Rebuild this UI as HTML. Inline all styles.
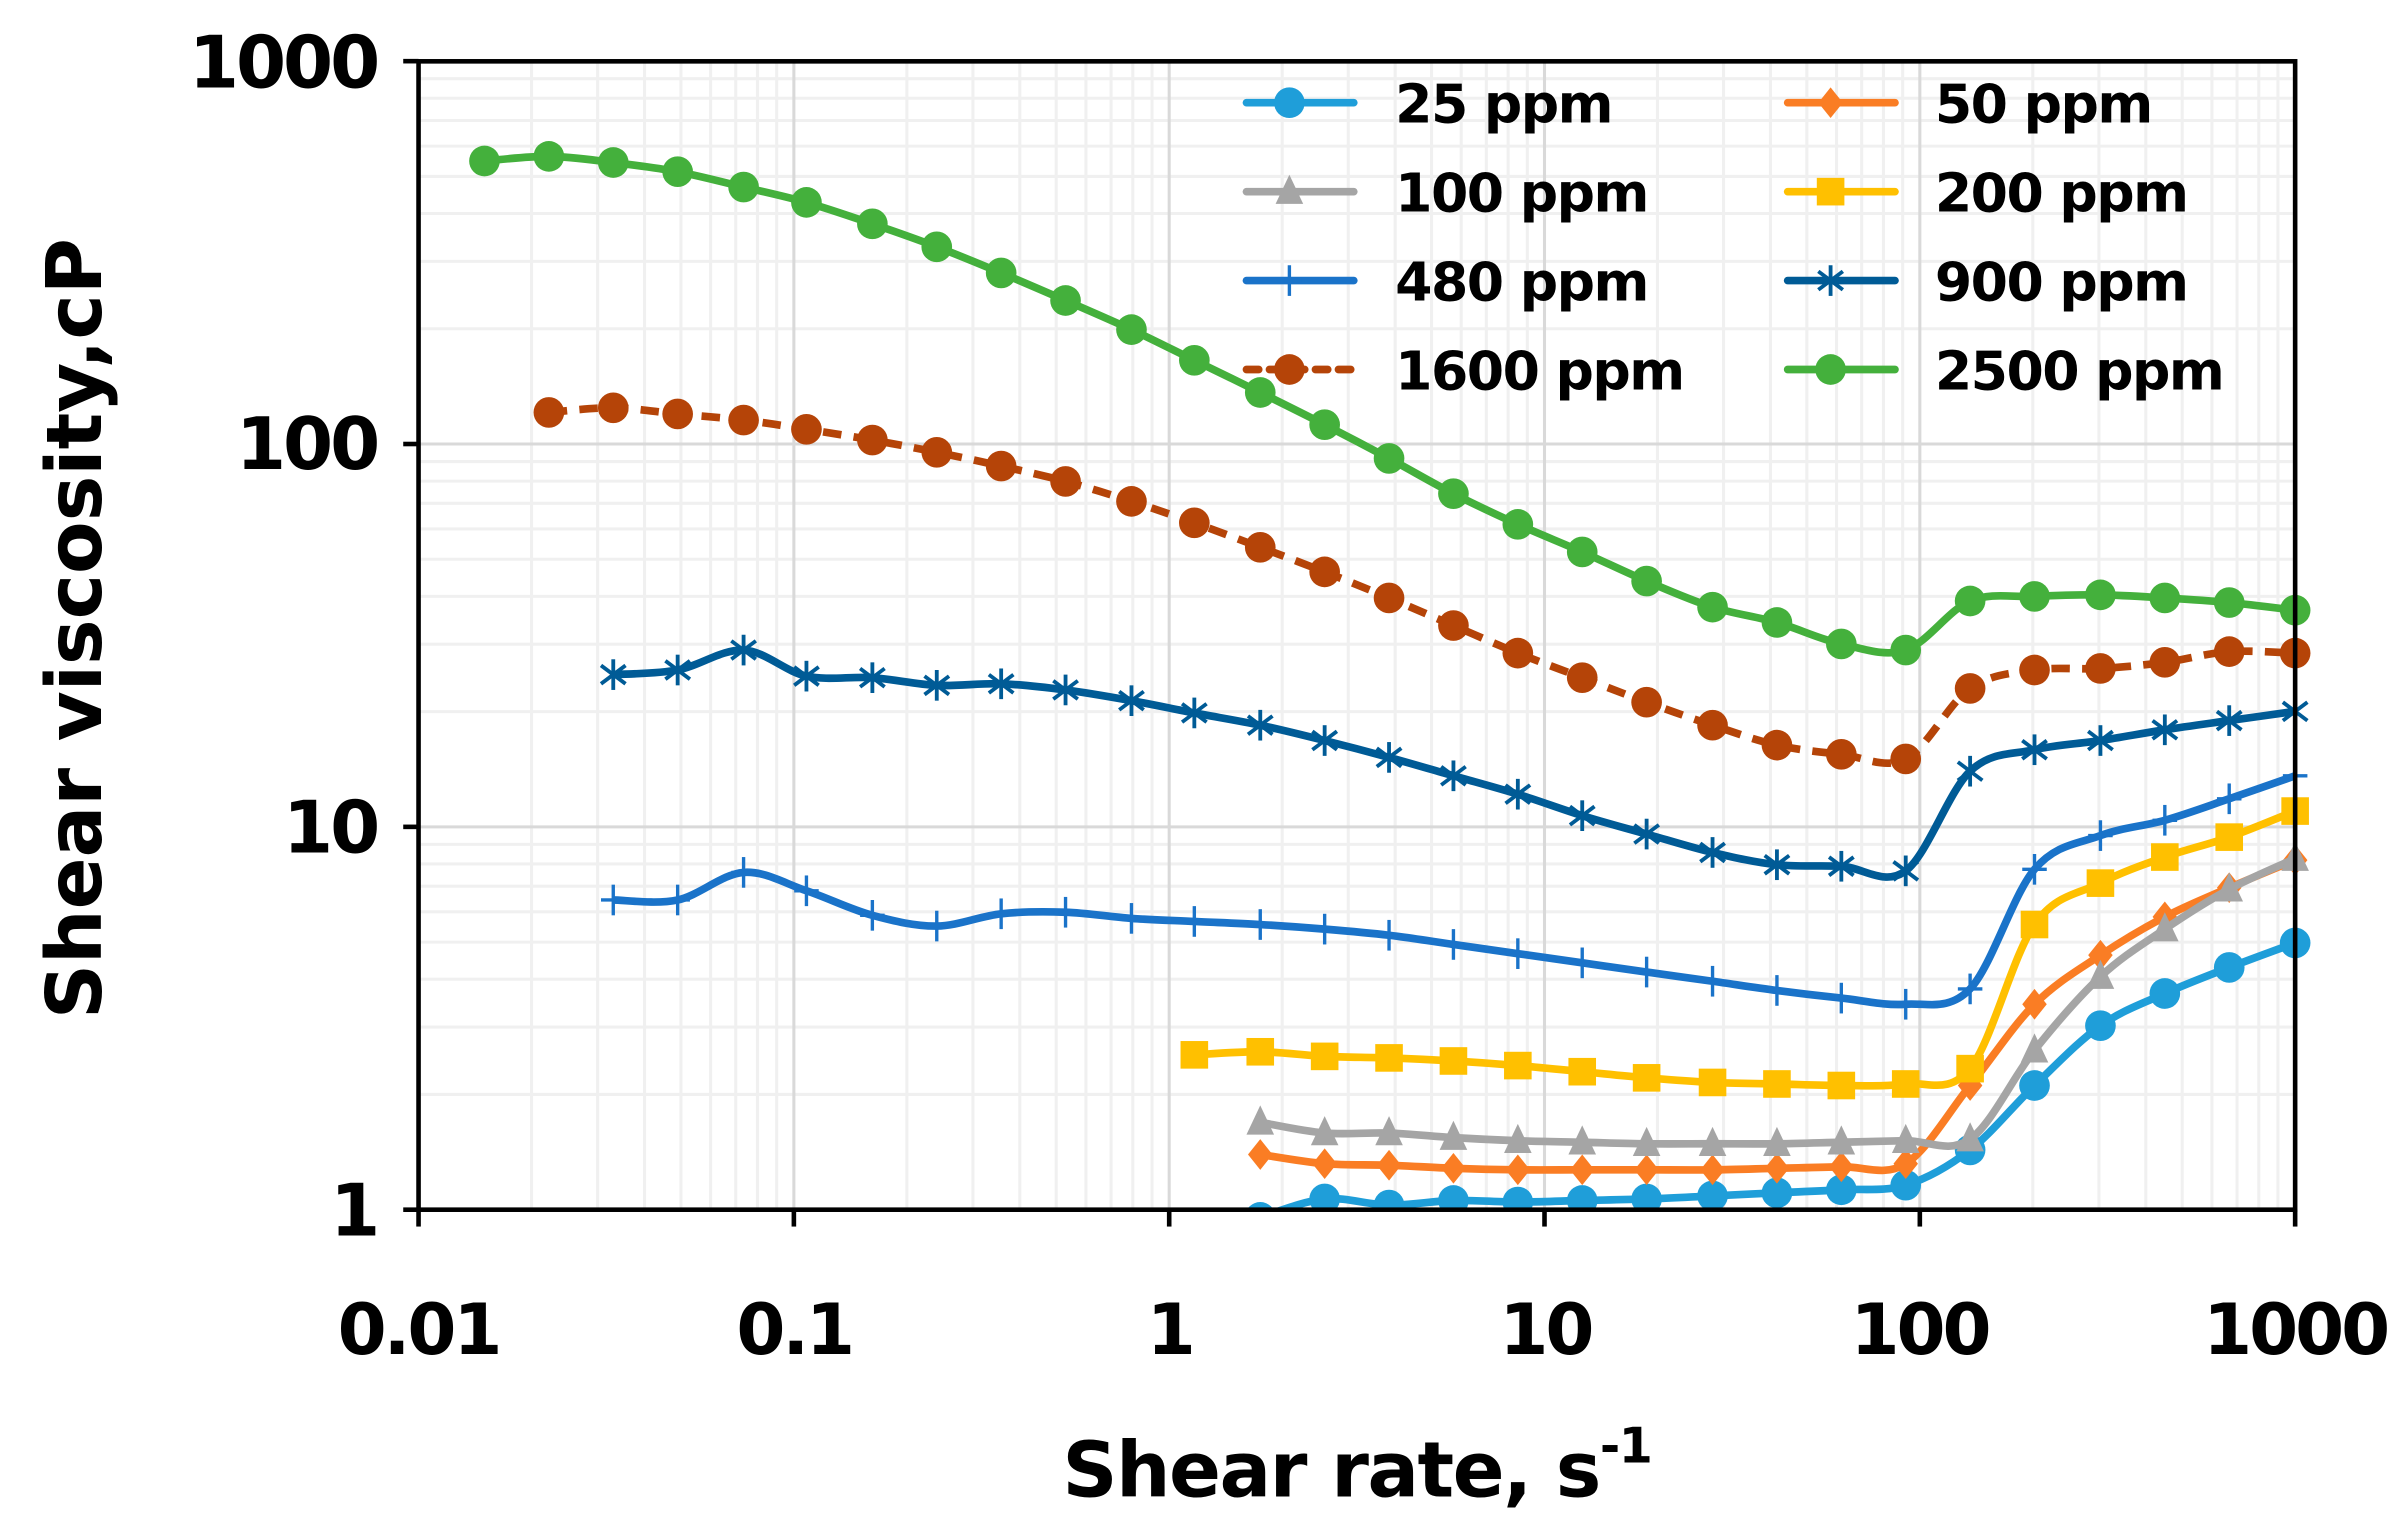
<!DOCTYPE html>
<html><head><meta charset="utf-8"><style>
html,body{margin:0;padding:0;background:#fff;}
svg{display:block;}
text{font-family:"DejaVu Sans","Liberation Sans",sans-serif;font-weight:bold;fill:#000;}
</style></head><body>
<svg id="s" width="2404" height="1524" viewBox="0 0 1568 994" preserveAspectRatio="none" xmlns="http://www.w3.org/2000/svg">
<g id="grid"></g>
<g id="series"></g>
<rect x="273" y="40" width="1224" height="749" fill="none" stroke="#000" stroke-width="3"/>
<g id="ticks" stroke="#000" stroke-width="3"></g>
<g font-size="47" text-anchor="end" letter-spacing="-2">
<text x="246" y="57">1000</text><text x="246" y="306">100</text><text x="246" y="556">10</text><text x="246" y="806">1</text>
</g>
<g font-size="46" text-anchor="middle" letter-spacing="-2">
<text x="273" y="883">0.01</text><text x="518" y="883">0.1</text><text x="763" y="883">1</text><text x="1008" y="883">10</text><text x="1252" y="883">100</text><text x="1497" y="883">1000</text>
</g>
<text x="885" y="976" font-size="50" text-anchor="middle" letter-spacing="-1">Shear rate, s<tspan font-size="32" dy="-22">-1</tspan></text>
<text transform="translate(66,410) rotate(-90)" font-size="50" text-anchor="middle">Shear viscosity,cP</text>
<g id="legend" font-size="35" letter-spacing="-1"></g>
</svg>
<script>
const NS="http://www.w3.org/2000/svg";
function el(p,t,a){const e=document.createElementNS(NS,t);for(const k in a)e.setAttribute(k,a[k]);p.appendChild(e);return e;}
const L=273,R=1497,T=40,B=789;
const X=v=>L+244.8*Math.log10(v/0.01), Y=v=>B-249.7*Math.log10(v);
const g=document.getElementById('grid');
for(let d=-2;d<3;d++)for(let m=2;m<10;m++){const x=X(m*Math.pow(10,d));el(g,'line',{x1:x,x2:x,y1:T,y2:B,stroke:'#f0f0f0','stroke-width':2});}
for(let d=0;d<3;d++)for(let m=2;m<10;m++){const y=Y(m*Math.pow(10,d));el(g,'line',{x1:L,x2:R,y1:y,y2:y,stroke:'#f0f0f0','stroke-width':2});}
for(let d=-1;d<3;d++){const x=X(Math.pow(10,d));el(g,'line',{x1:x,x2:x,y1:T,y2:B,stroke:'#d9d9d9','stroke-width':2});}
for(let d=1;d<3;d++){const y=Y(Math.pow(10,d));el(g,'line',{x1:L,x2:R,y1:y,y2:y,stroke:'#d9d9d9','stroke-width':2});}
const tk=document.getElementById('ticks');
for(let d=-2;d<4;d++){const x=X(Math.pow(10,d));el(tk,'line',{x1:x,x2:x,y1:B,y2:B+11});}
for(let d=0;d<4;d++){const y=Y(Math.pow(10,d));el(tk,'line',{x1:L-10,x2:L,y1:y,y2:y});}
const xs=[316,358,400,442,485,526,569,611,653,695,738,779,822,864,906,948,990,1032,1074,1117,1159,1201,1243,1285,1327,1370,1412,1454,1497];
function pts(start,ys){return ys.map((y,i)=>[xs[start+i],y]);}
const S=[
 {n:'25 ppm',c:'#1f9ed9',m:'circle',p:pts(12,[794,782,786,783,784,783,782,780,778,776,773,750,708,669,648,631,615])},
 {n:'50 ppm',c:'#fa7d24',m:'diamond',p:pts(12,[753,759,760,762,763,763,763,763,762,761,759,708,655,623,598,579,561])},
 {n:'100 ppm',c:'#a5a5a5',m:'tri',p:pts(12,[732,739,739,742,744,745,746,746,746,745,744,743,685,637,606,580,560])},
 {n:'200 ppm',c:'#ffc000',m:'square',p:pts(11,[688,686,689,690,692,695,699,703,706,707,708,707,697,603,576,559,546,529])},
 {n:'480 ppm',c:'#1a73c9',m:'plus',p:pts(2,[587,587,569,581,597,604,596,595,599,601,603,606,610,616,622,628,634,640,646,651,655,645,567,545,535,521,506])},
 {n:'900 ppm',c:'#005b96',m:'star',p:pts(2,[440,437,424,441,442,447,446,450,457,465,473,483,494,506,518,532,544,556,564,565,568,503,489,483,476,470,464])},
 {n:'1600 ppm',c:'#b54408',m:'circle',dash:true,p:pts(1,[269,266,270,274,280,287,295,304,314,327,341,357,373,390,408,426,442,458,473,486,492,495,449,437,436,432,425,426])},
 {n:'2500 ppm',c:'#44b03c',m:'circle',p:pts(0,[105,102,106,112,122,132,146,161,178,196,215,235,256,277,299,322,342,360,379,396,406,420,424,392,389,388,390,393,398])}
];
function path(p){let d='M'+p[0][0]+','+p[0][1];for(let i=0;i<p.length-1;i++){const p0=p[i-1]||p[i],p1=p[i],p2=p[i+1],p3=p[i+2]||p2;const t=6;d+=` C${p1[0]+(p2[0]-p0[0])/t},${p1[1]+(p2[1]-p0[1])/t} ${p2[0]-(p3[0]-p1[0])/t},${p2[1]-(p3[1]-p1[1])/t} ${p2[0]},${p2[1]}`;}return d;}
function marker(par,m,x,y,c){
 if(m==='circle')el(par,'ellipse',{cx:x,cy:y,rx:10,ry:10,fill:c});
 else if(m==='diamond')el(par,'polygon',{points:`${x},${y-10} ${x+8},${y} ${x},${y+10} ${x-8},${y}`,fill:c});
 else if(m==='tri')el(par,'polygon',{points:`${x},${y-11} ${x+9},${y+8} ${x-9},${y+8}`,fill:c});
 else if(m==='square')el(par,'rect',{x:x-9,y:y-9,width:18,height:18,fill:c});
 else if(m==='plus'){el(par,'line',{x1:x,x2:x,y1:y-10,y2:y+10,stroke:c,'stroke-width':2.2});el(par,'line',{x1:x-8,x2:x+8,y1:y,y2:y,stroke:c,'stroke-width':2.2});}
 else if(m==='star'){el(par,'line',{x1:x,x2:x,y1:y-10,y2:y+10,stroke:c,'stroke-width':2.5});el(par,'line',{x1:x-8,x2:x+8,y1:y-6,y2:y+6,stroke:c,'stroke-width':2.5});el(par,'line',{x1:x-8,x2:x+8,y1:y+6,y2:y-6,stroke:c,'stroke-width':2.5});}
}
const sg=document.getElementById('series');
const clip=el(el(document.getElementById('s'),'defs',{}),'clipPath',{id:'cp'});el(clip,'rect',{x:L,y:T-20,width:R-L+20,height:B-T+20});
const sg2=el(sg,'g',{'clip-path':'url(#cp)'});
for(const s of S){
 const a={d:path(s.p),fill:'none',stroke:s.c,'stroke-width':5,'stroke-linejoin':'round'};
 if(s.dash)a['stroke-dasharray']='12,8';
 el(sg2,'path',a);
 for(const q of s.p)marker(sg2,s.m,q[0],q[1],s.c);
}
const lg=document.getElementById('legend');
S.forEach((s,i)=>{const col=i%2,row=Math.floor(i/2);const x0=col?1166:813,y=67+row*58;
 const a={x1:x0,x2:x0+70,y1:y,y2:y,stroke:s.c,'stroke-width':5,'stroke-linecap':'round'};if(s.dash)a['stroke-dasharray']='8,7';
 el(lg,'line',a);marker(lg,s.m,x0+28,y,s.c);
 const t=el(lg,'text',{x:col?1262:910,y:y+13});t.textContent=s.n;});
</script>
</body></html>
